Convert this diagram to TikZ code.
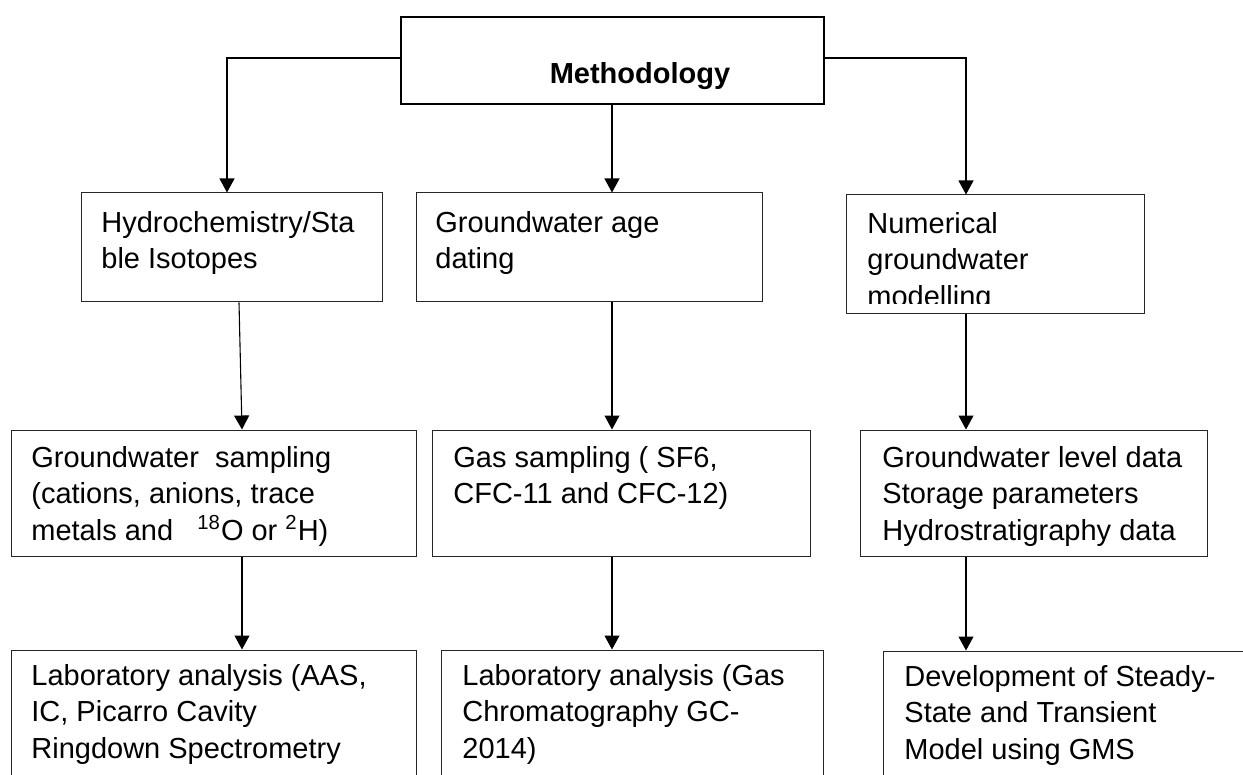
\documentclass[tikz,border=0pt]{standalone}
\usepackage{fontspec}
\setmainfont{Liberation Sans}
\usetikzlibrary{arrows.meta,fit}
\newcommand\lnstrut{\rule{0pt}{11pt}}
\begin{document}
\begin{tikzpicture}[x=0.5pt,y=-0.5pt,
  boxed/.style={draw=black!85, line width=0.5pt, inner sep=0pt},
  topbox/.style={draw=black, line width=1.4pt, inner sep=0pt},
  txt/.style={inner sep=0pt, anchor=north west, align=left, font=\fontsize{14.5}{18.25}\selectfont},
  conn/.style={draw=black, line width=0.55pt, -{Triangle[width=7.5pt,length=7pt]}}]
\useasboundingbox (0,0) rectangle (1243,775);
\clip (0,0) rectangle (1243,775);
\fill[white] (0,0) rectangle (1243,775);

% top
\node[topbox, fit={(401,17) (824,104)}] (top) {};
\node[inner sep=0pt, anchor=base, font=\bfseries\fontsize{14.5}{18.25}\selectfont] (ttl) at (640,84) {Methodology};

% row 2
\node[boxed, fit={(81,193) (382,302)}] (b1) {};
\node[boxed, fit={(416,193) (762,302)}] (b2) {};
\node[boxed, fit={(846,195) (1144,314)}] (b3) {};
\node[txt] (t1) at (101,210) {\lnstrut Hydrochemistry/Sta\\ble Isotopes};
\node[txt] (t2) at (435,210) {\lnstrut Groundwater age\\dating};
\begin{scope}
\clip (846,195) rectangle (1144,304);
\node[txt] (t3) at (867,211) {\lnstrut Numerical\\groundwater\\modelling};
\end{scope}

% row 3
\node[boxed, fit={(11,430) (416,556)}] (b4) {};
\node[boxed, fit={(432,430) (810,556)}] (b5) {};
\node[boxed, fit={(860,430) (1207,556)}] (b6) {};
\node[txt] (t4) at (31,445) {\lnstrut Groundwater\ \ sampling\\(cations, anions, trace\\metals and\ \ \ \textsuperscript{18}O or \textsuperscript{2}H)};
\node[txt] (t5) at (453,445) {\lnstrut Gas sampling ( SF6,\\CFC-11 and CFC-12)};
\node[txt] (t6) at (882,445) {\lnstrut Groundwater level data\\Storage parameters\\Hydrostratigraphy data};

% row 4
\node[boxed, fit={(11,650) (416,800)}] (b7) {};
\node[boxed, fit={(441,650) (823,800)}] (b8) {};
\node[boxed, fit={(883,651) (1262,800)}] (b9) {};
\node[txt] (t7) at (31,663) {\lnstrut Laboratory analysis (AAS,\\IC, Picarro Cavity\\Ringdown Spectrometry};
\node[txt] (t8) at (462,663) {\lnstrut Laboratory analysis (Gas\\Chromatography GC-\\2014)};
\node[txt] (t9) at (904,664) {\lnstrut Development of Steady-\\State and Transient\\Model using GMS};

% connectors
\coordinate (xa) at (227,0);
\coordinate (xb) at (239,0);
\coordinate (xc) at (242,0);
\coordinate (xm) at (612,0);
\coordinate (xr) at (966,0);
\draw[conn] ([yshift=1.25pt]top.west) -| (b1.north -| xa);
\draw[conn] ([yshift=1.25pt]top.east) -| (b3.north -| xr);
\draw[conn] (top.south -| xm) -- (b2.north -| xm);
\draw[conn] (b1.south -| xb) -- (b4.north -| xc);
\draw[conn] (b2.south -| xm) -- (b5.north -| xm);
\draw[conn] (b3.south -| xr) -- (b6.north -| xr);
\draw[conn] (b4.south -| xc) -- (b7.north -| xc);
\draw[conn] (b5.south -| xm) -- (b8.north -| xm);
\draw[conn] (b6.south -| xr) -- (b9.north -| xr);
\end{tikzpicture}
\end{document}
